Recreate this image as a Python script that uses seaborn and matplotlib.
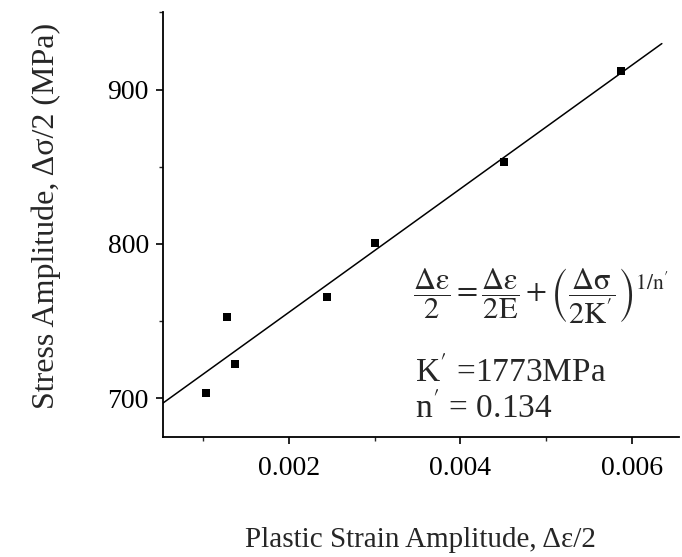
import matplotlib
matplotlib.use("Agg")
import matplotlib.pyplot as plt
from matplotlib.ticker import MultipleLocator, FixedLocator
import numpy as np
import pandas as pd
import seaborn as sns

# Cyclic stress-strain data: plastic strain amplitude vs stress amplitude
strain_amp = [0.00103, 0.00128, 0.00137, 0.00244, 0.00300, 0.00451, 0.00587]
stress_amp = [703.4, 752.8, 722.0, 765.8, 800.8, 852.8, 912.3]

K_prime = 1773
n_prime = 0.134

x_ticks = [0.002, 0.004, 0.006]
x_tick_labels = ["0.002", "0.004", "0.006"]
y_ticks = [700, 800, 900]
y_tick_labels = ["700", "800", "900"]

df = pd.DataFrame({"strain": strain_amp, "stress": stress_amp})

sns.set_style("ticks")
plt.rcParams["font.family"] = ["Liberation Serif", "DejaVu Serif"]
plt.rcParams["mathtext.fontset"] = "stix"

fig = plt.figure(figsize=(6.82, 5.57), dpi=100)
ax = fig.add_axes([0.2386, 0.2154, 0.757, 0.7625])

# fitted line spans from the left axis to just past the last point
ax.set_xlim(0.00053, 0.00635)
ax.set_ylim(675, 950)
sns.regplot(
    data=df, x="strain", y="stress", ax=ax, ci=None, truncate=False,
    marker="s", color="black",
    scatter_kws={"s": 40, "linewidths": 0, "alpha": 1},
    line_kws={"linewidth": 1.1, "color": "black"},
)
ax.set_xlim(0.00053, 0.00655)

sns.despine(ax=ax)
for side in ("left", "bottom"):
    ax.spines[side].set_linewidth(1.3)
    ax.spines[side].set_color("black")

ax.xaxis.set_major_locator(FixedLocator(x_ticks))
ax.set_xticklabels(x_tick_labels)
ax.xaxis.set_minor_locator(MultipleLocator(0.001))
ax.yaxis.set_major_locator(FixedLocator(y_ticks))
ax.set_yticklabels(y_tick_labels)
ax.yaxis.set_minor_locator(MultipleLocator(50))
ax.tick_params(which="major", direction="out", length=5, width=1.2,
               labelsize=20, colors="black")
ax.tick_params(axis="x", which="major", pad=9)
ax.tick_params(axis="y", which="major", pad=5)
ax.tick_params(which="minor", direction="out", length=3, width=1.0)

ax.set_xlabel("Plastic Strain Amplitude, Δε/2", fontsize=21, labelpad=33)
ax.set_ylabel("Stress Amplitude, Δσ/2 (MPa)", fontsize=23)
ax.yaxis.set_label_coords(-0.198, 0.52)

ax.text(0.00345, 766,
        r"$\dfrac{\Delta\mathrm{\varepsilon}}{2}=\dfrac{\Delta\mathrm{\varepsilon}}{2\mathrm{E}}"
        r"+\left(\dfrac{\Delta\mathrm{\sigma}}{2\mathrm{K}^{\prime}}\right)^{1/\mathrm{n}^{\prime}}$",
        fontsize=22, va="center", ha="left")
ax.text(0.00347, 711, r"K$^{\prime}$ =" + f"{K_prime}MPa",
        fontsize=24, va="baseline", ha="left")
ax.text(0.00347, 687.5, r"n$^{\prime}$ = " + f"{n_prime}",
        fontsize=24, va="baseline", ha="left")

fig.savefig("out.png", dpi=100)
